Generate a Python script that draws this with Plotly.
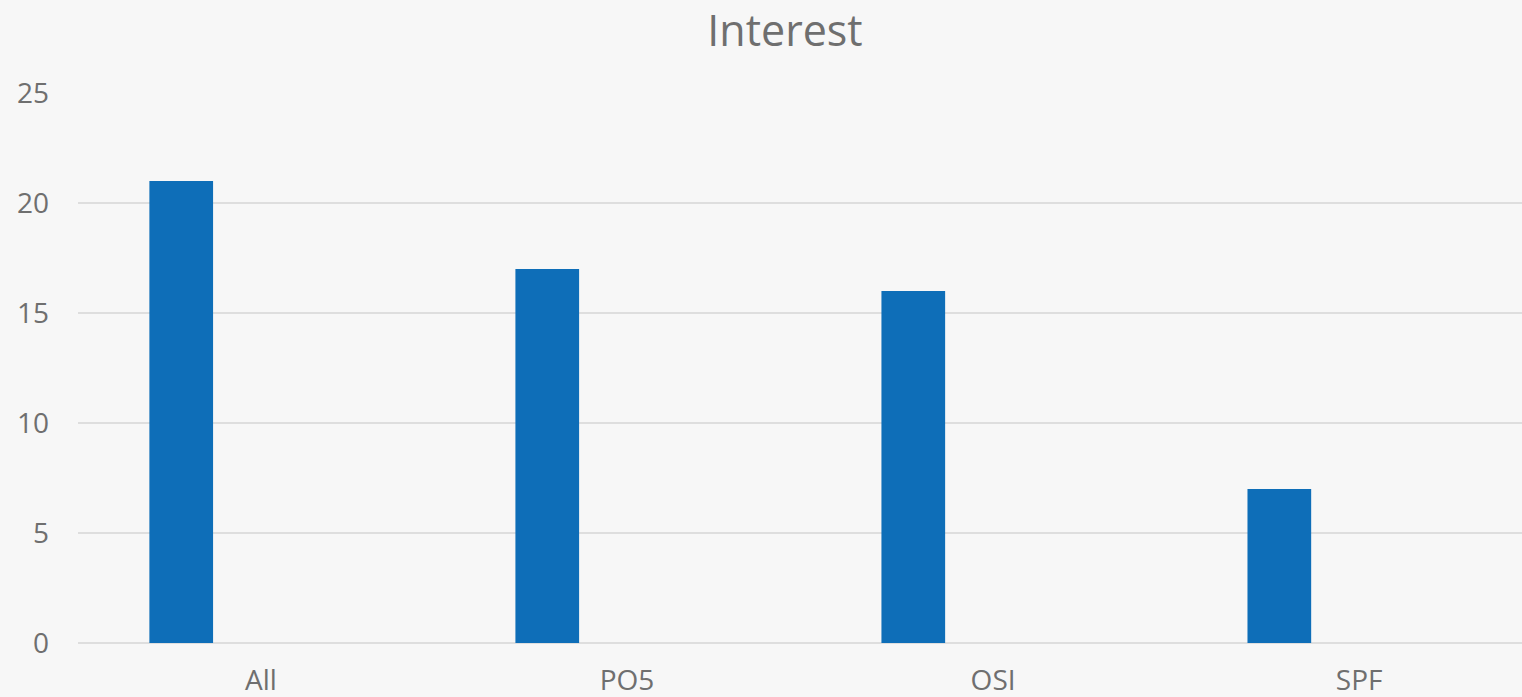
import plotly.graph_objects as go

categories = ["All", "PO5", "OSI", "SPF"]
interest = [21, 17, 16, 7]
y_ticks = [0, 5, 10, 15, 20, 25]

TEXT = "#6f6f6f"
FONT = "Open Sans"

fig = go.Figure()
fig.add_trace(go.Bar(
    x=categories, y=interest,
    marker=dict(color="#0e6eb8", line=dict(width=0)),
    width=0.174, offset=-0.305,
    showlegend=False,
))

fig.update_layout(
    width=1522, height=697,
    paper_bgcolor="#f7f7f7", plot_bgcolor="#f7f7f7",
    margin=dict(l=78, r=0, t=93, b=54, pad=0),
    title=dict(text="Interest", x=785/1522, xanchor="center",
               y=1 - 31/697, yanchor="middle", yref="container",
               font=dict(family=FONT, size=43, color=TEXT)),
    font=dict(family=FONT, size=28, color=TEXT),
    xaxis=dict(type="category", range=[-0.5, 3.445], showgrid=False,
               showline=False, zeroline=False, ticks="", automargin=False,
               ticklabelstandoff=18,
               tickfont=dict(family=FONT, size=28, color=TEXT)),
    yaxis=dict(range=[0, 25], tickvals=y_ticks, showgrid=True,
               gridcolor="#dedede", gridwidth=1.5, zeroline=True,
               zerolinecolor="#dedede", zerolinewidth=1.5, automargin=False,
               showline=False, ticks="", ticklabelstandoff=28,
               tickfont=dict(family=FONT, size=28, color=TEXT)),
)

fig.write_html("out.html", config={"displayModeBar": False},
               post_script="document.body.style.margin='0';document.body.style.overflow='hidden';")
